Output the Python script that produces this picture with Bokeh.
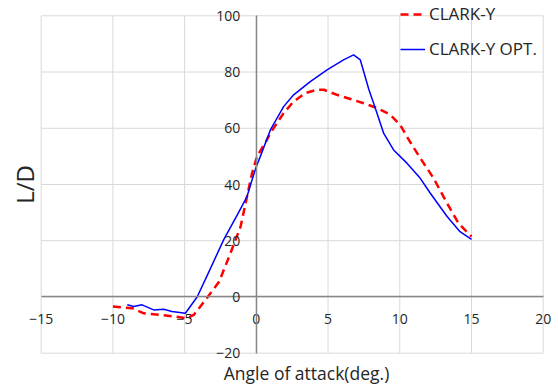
import math
from bokeh.plotting import figure
from bokeh.models import FixedTicker, Range1d, Legend, LegendItem, Label
from bokeh.embed import file_html
from bokeh.resources import INLINE

# ---- data ----
red_x = [-10, -8.66, -7.85, -6.7, -5.64, -4.83, -4.37, -3.9, -3.2, -2.6, -1.81, -1.1, -0.65, -0.3, 0.05,
         0.74, 0.98, 1.9, 2.6, 3.41, 4.23, 4.7, 5.62, 6.55, 7.48, 8.41, 9.34, 10.03, 10.7, 11.43, 12.36,
         13.3, 14.1, 15]
red_y = [-3.4, -4.0, -5.8, -6.4, -7.0, -7.6, -6.4, -3.4, 1.3, 5.4, 15.5, 25.0, 35.7, 44.0, 50.0,
         55.9, 58.3, 65.4, 69.5, 72.5, 73.7, 73.7, 71.9, 70.4, 68.9, 67.2, 64.8, 61.2, 55.3, 49.4, 42.2,
         33.3, 26.2, 21.5]

blue_x = [-9.0, -8.55, -7.97, -7.16, -6.46, -5.88, -4.95, -4.13, -3.35, -2.28, -1.3, -0.65, -0.3, 0.0, 0.28,
          0.98, 1.9, 2.6, 3.76, 4.93, 6.08, 6.78, 7.25, 7.85, 8.29, 8.87, 9.57, 10.5, 11.43, 12.13,
          13.3, 14.2, 15.0]
blue_y = [-2.8, -3.4, -2.8, -4.6, -4.4, -5.2, -5.8, 0.0, 8.5, 20.3, 29.5, 35.7, 41.6, 46.4, 50.0,
          59.4, 67.7, 71.9, 76.6, 80.8, 84.3, 86.1, 84.3, 73.7, 67.2, 58.3, 52.3, 47.6, 42.2, 36.9,
          28.6, 23.2, 20.5]

series_names = ["CLARK-Y", "CLARK-Y OPT."]
x_ticks = [-15, -10, -5, 0, 5, 10, 15, 20]
y_ticks = [-20, 0, 20, 40, 60, 80, 100]
x_title = "Angle of attack(deg.)"
y_title = "L/D"

FONT = "Open Sans"
TXT = "#262626"
GRID = "#D9D9D9"

# plot area (-15..20, -20..100) sits at pixels x 40.7..542.7, y 15.3..352.7 of a 558x389 canvas;
# the frame fills the whole canvas so that text around the plot area is not clipped
W, H = 558, 389
px_left, px_right, px_top, px_bottom = 40.7, 542.7, 15.3, 352.7
xs = (px_right - px_left) / (x_ticks[-1] - x_ticks[0])
ys = (px_bottom - px_top) / (y_ticks[-1] - y_ticks[0])
x0 = x_ticks[0] - px_left / xs
x1 = x_ticks[-1] + (W - px_right) / xs
y1 = y_ticks[-1] + px_top / ys
y0 = y_ticks[0] - (H - px_bottom) / ys

p = figure(width=W, height=H, output_backend="svg", toolbar_location=None,
           x_range=Range1d(x0, x1), y_range=Range1d(y0, y1),
           min_border=0)
p.outline_line_color = None
p.background_fill_color = "white"
p.border_fill_color = "white"
p.grid.visible = False

# gridlines limited to the plot area, from the tick arrays
p.segment(x0=x_ticks, y0=[y_ticks[0]] * len(x_ticks), x1=x_ticks, y1=[y_ticks[-1]] * len(x_ticks),
          line_color=GRID, line_width=1)
p.segment(x0=[x_ticks[0]] * len(y_ticks), y0=y_ticks, x1=[x_ticks[-1]] * len(y_ticks), y1=y_ticks,
          line_color=GRID, line_width=1)

for ax, ticks in ((p.xaxis, x_ticks), (p.yaxis, y_ticks)):
    ax.ticker = FixedTicker(ticks=ticks)
    ax.fixed_location = 0
    ax.bounds = (ticks[0], ticks[-1])
    ax.axis_line_color = "#868686"
    ax.axis_line_width = 1.5
    ax.major_tick_line_color = None
    ax.minor_tick_line_color = None
    ax.major_tick_in = 0
    ax.major_tick_out = 0
    ax.major_label_text_font = FONT
    ax.major_label_text_font_size = "14px"
    ax.major_label_text_color = TXT
p.xaxis.major_label_standoff = 17
p.yaxis.major_label_standoff = 16

r_red = p.line(red_x, red_y, line_color="#FF0000", line_width=2.5, line_dash="8 5")
r_blue = p.line(blue_x, blue_y, line_color="#0000FF", line_width=1.5)

legend = Legend(items=[LegendItem(label=series_names[0], renderers=[r_red]),
                       LegendItem(label=series_names[1], renderers=[r_blue])],
                location=(400, 329), margin=0, padding=0, spacing=12,
                glyph_width=25, glyph_height=20, label_height=20, label_standoff=4,
                label_text_font=FONT, label_text_font_size="17px", label_text_color=TXT,
                background_fill_alpha=0, border_line_color=None)
p.add_layout(legend, "center")

p.add_layout(Label(x=x_ticks[0], y=40, x_offset=-17, text=y_title, angle=math.pi / 2,
                   text_align="center", text_baseline="middle", text_font=FONT,
                   text_font_size="24px", text_color=TXT))
p.add_layout(Label(x=3.5, y=y_ticks[0], y_offset=-20, text=x_title,
                   text_align="center", text_baseline="middle", text_font=FONT,
                   text_font_size="17.5px", text_color=TXT))

open("out.html", "w").write(file_html(p, INLINE))
